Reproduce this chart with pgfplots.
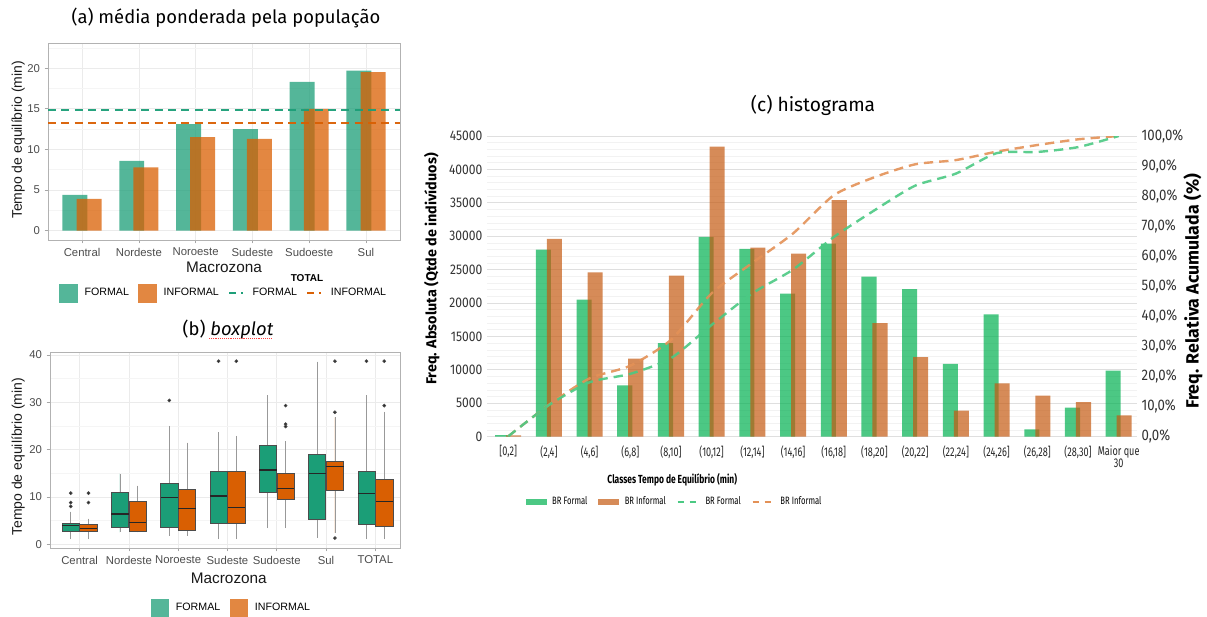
\documentclass[border=0pt]{standalone}
\usepackage{fontspec}
\setmainfont{Liberation Sans}
\newfontfamily\titlefont{Fira Sans}
\newfontfamily\condfont[FakeStretch=0.86]{Fira Sans}
\newfontfamily\ccondfont[FakeStretch=0.72]{Fira Sans}
\usepackage{pgfplots}
\pgfplotsset{compat=1.18}
\usepgfplotslibrary{statistics}

\definecolor{ggGreen}{HTML}{1B9E77}
\definecolor{ggOrange}{HTML}{D95F02}
\definecolor{ggGreenL}{HTML}{54B699}
\definecolor{ggOrangeL}{HTML}{E28741}
\definecolor{xlGreen}{HTML}{00B050}
\definecolor{xlOrange}{HTML}{C55A11}
\definecolor{lnGreen}{HTML}{4BC983}
\definecolor{lnOrange}{HTML}{E39157}

\pgfplotsset{
  ggleg/.style={
    legend style={draw=none, fill=none, font=\fontsize{8}{10}\selectfont,
      legend columns=-1,
      /tikz/every odd column/.append style={column sep=3pt},
      /tikz/every even column/.append style={column sep=5pt}},
    legend cell align=left,
  },
  gg/.style={
    scale only axis,
    axis line style={draw=gray!60, line width=0.5pt},
    xmajorgrids, ymajorgrids, yminorgrids,
    major grid style={draw=gray!16, line width=0.5pt},
    minor grid style={draw=gray!8, line width=0.35pt},
    tick align=outside, tick pos=left,
    major tick length=2.5pt, minor tick length=0pt,
    tick style={draw=gray!70, line width=0.5pt},
    ticklabel style={font=\fontsize{8.5}{10}\selectfont, text=black!70},
    /pgf/number format/assume math mode=true,
    ylabel style={font=\fontsize{10.5}{12}\selectfont, text=black!90},
    xlabel style={font=\fontsize{11.5}{13}\selectfont, text=black!90},
    ggleg,
  },
  sqG/.style={legend image code/.code={\fill[fill=ggGreenL, draw=none] (0pt,-7pt) rectangle (14pt,7pt);}},
  sqO/.style={legend image code/.code={\fill[fill=ggOrangeL, draw=none] (0pt,-7pt) rectangle (14pt,7pt);}},
  dashG/.style={legend image code/.code={\draw[color=ggGreen, line width=1.4pt, opacity=0.99, dash pattern=on 5pt off 4pt on 1.2pt off 20pt] (0pt,0pt) -- (12pt,0pt);}},
  dashO/.style={legend image code/.code={\draw[color=ggOrange, line width=1.4pt, opacity=0.99, dash pattern=on 5pt off 4pt on 1.2pt off 20pt] (0pt,0pt) -- (12pt,0pt);}},
  barG/.style={legend image code/.code={\fill[fill=xlGreen, fill opacity=0.7, draw=none] (0pt,-2.5pt) rectangle (16pt,2.5pt);}},
  barO/.style={legend image code/.code={\fill[fill=xlOrange, fill opacity=0.7, draw=none] (0pt,-2.5pt) rectangle (16pt,2.5pt);}},
  lnG/.style={legend image code/.code={\draw[draw=lnGreen, line width=1.8pt, dash pattern=on 5pt off 4pt] (0pt,0pt) -- (16pt,0pt);}},
  lnO/.style={legend image code/.code={\draw[draw=lnOrange, line width=1.8pt, dash pattern=on 5pt off 4pt] (0pt,0pt) -- (16pt,0pt);}},
  boxF/.style={forget plot, solid, fill=ggGreen, draw=black!70, line width=0.5pt,
    mark=*, mark size=1.1pt, mark options={fill=black!85, draw=none},
    boxplot/draw direction=y,
    boxplot/every whisker/.style={draw=black!40, line width=0.6pt},
    boxplot/every median/.style={draw=black!85, line width=0.9pt}},
  boxI/.style={boxF, fill=ggOrange},
}

\begin{document}
\begin{tikzpicture}[x=0.75pt, y=0.75pt]
\path[use as bounding box] (0,0) rectangle (1207,617);
\coordinate (PA) at (48,377);
\coordinate (PB) at (50,69);
\coordinate (PC) at (487,180.3);

% ---------------- (a) media ponderada ----------------
\node[font=\titlefont\fontsize{13.8}{16}\selectfont] at (226,599) {(a) média ponderada pela população};
\begin{axis}[gg,
  at={(PA)}, anchor=south west,
  width=264pt, height=147.75pt,
  xmin=-0.6, xmax=5.6, ymin=-1.15, ymax=23.1,
  xtick={0,...,5},
  xticklabels={Central,Nordeste,Noroeste,Sudeste,Sudoeste,Sul},
  ytick={0,5,10,15,20}, minor ytick={2.5,7.5,12.5,17.5,22.5},
  xlabel={Macrozona}, ylabel={Tempo de equilíbrio (min)},
  xlabel style={at={(axis description cs:0.5,-0.137)}, anchor=center},
  ylabel style={at={(axis description cs:-0.085,0.508)}, anchor=center},
  legend style={at={(axis description cs:0.5,-0.27)}, anchor=center},
]
\addplot[forget plot, ybar, bar width=0.44, bar shift=-0.125, fill=ggGreen, fill opacity=0.75, draw=none]
  coordinates {(0,4.4) (1,8.6) (2,13.1) (3,12.5) (4,18.3) (5,19.7)};
\addplot[forget plot, ybar, bar width=0.44, bar shift=0.125, fill=ggOrange, fill opacity=0.75, draw=none]
  coordinates {(0,3.9) (1,7.8) (2,11.5) (3,11.3) (4,15.0) (5,19.5)};
\addlegendimage{sqG}\addlegendentry{FORMAL}
\addlegendimage{sqO}\addlegendentry{INFORMAL\hspace{6pt}}
\addlegendimage{dashG}\addlegendentry{FORMAL}
\addlegendimage{dashO}\addlegendentry{INFORMAL}
\end{axis}
% TOTAL lines in an overlay axis with the same geometry (no legend here)
\begin{axis}[
  scale only axis,
  at={(PA)}, anchor=south west,
  width=264pt, height=147.75pt,
  xmin=-0.6, xmax=5.6, ymin=-1.15, ymax=23.1,
  axis x line=none, axis y line=none,
  ticks=none,
]
\addplot[draw=ggGreen, opacity=0.95, line width=1.5pt, dash pattern=on 6pt off 4pt]
  coordinates {(-0.6,14.9) (2.5,14.9) (5.6,14.9)};
\addplot[draw=ggOrange, opacity=0.95, line width=1.5pt, dash pattern=on 6pt off 4pt]
  coordinates {(-0.6,13.2) (2.5,13.2) (5.6,13.2)};
\end{axis}
\node[font=\bfseries\fontsize{7.5}{9}\selectfont] at (307,339) {TOTAL};

% ---------------- (b) boxplot ----------------
\node[font=\titlefont\fontsize{13.8}{16}\selectfont] at (228,287) {(b) \textit{boxplot}};
\draw[red!75, line width=0.4pt, densely dotted] (209,278.5) -- (272,278.5);
\begin{axis}[gg,
  at={(PB)}, anchor=south west,
  width=262.5pt, height=146.5pt,
  xmin=-0.6, xmax=6.5, ymin=-0.8, ymax=40.5,
  xtick={0,...,6},
  xticklabels={Central,Nordeste,Noroeste,Sudeste,Sudoeste,Sul,TOTAL},
  ytick={0,10,20,30,40}, minor ytick={5,15,25,35},
  xlabel={Macrozona}, ylabel={Tempo de equilíbrio (min)},
  xlabel style={at={(axis description cs:0.511,-0.154)}, anchor=center},
  ylabel style={at={(axis description cs:-0.091,0.467)}, anchor=center},
  legend style={at={(axis description cs:0.519,-0.307)}, anchor=center},
]
% Central
\addplot[boxF, boxplot prepared={draw position=-0.18, box extend=0.35, whisker extend=0,
  lower whisker=1.1, lower quartile=2.7, median=3.9, upper quartile=4.4, upper whisker=6.9}]
  table[row sep=\\, y index=0] {data\\ 10.8\\ 8.8\\ 8.0\\};
\addplot[boxI, boxplot prepared={draw position=0.18, box extend=0.35, whisker extend=0,
  lower whisker=1.1, lower quartile=2.7, median=3.4, upper quartile=4.3, upper whisker=5.4}]
  table[row sep=\\, y index=0] {data\\ 10.8\\ 8.8\\};
% Nordeste
\addplot[boxF, boxplot prepared={draw position=0.82, box extend=0.35, whisker extend=0,
  lower whisker=2.5, lower quartile=3.5, median=6.4, upper quartile=10.9, upper whisker=14.9}]
  coordinates {};
\addplot[boxI, boxplot prepared={draw position=1.18, box extend=0.35, whisker extend=0,
  lower whisker=2.5, lower quartile=2.7, median=4.6, upper quartile=9.0, upper whisker=12.4}]
  coordinates {};
% Noroeste
\addplot[boxF, boxplot prepared={draw position=1.82, box extend=0.35, whisker extend=0,
  lower whisker=1.8, lower quartile=3.5, median=9.9, upper quartile=12.9, upper whisker=25.0}]
  table[row sep=\\, y index=0] {data\\ 30.4\\};
\addplot[boxI, boxplot prepared={draw position=2.18, box extend=0.35, whisker extend=0,
  lower whisker=1.8, lower quartile=3.0, median=7.5, upper quartile=11.5, upper whisker=21.5}]
  coordinates {};
% Sudeste
\addplot[boxF, boxplot prepared={draw position=2.82, box extend=0.35, whisker extend=0,
  lower whisker=1.1, lower quartile=4.4, median=10.2, upper quartile=15.5, upper whisker=23.7}]
  table[row sep=\\, y index=0] {data\\ 38.7\\};
\addplot[boxI, boxplot prepared={draw position=3.18, box extend=0.35, whisker extend=0,
  lower whisker=1.1, lower quartile=4.4, median=7.8, upper quartile=15.4, upper whisker=22.9}]
  table[row sep=\\, y index=0] {data\\ 38.7\\};
% Sudoeste
\addplot[boxF, boxplot prepared={draw position=3.82, box extend=0.35, whisker extend=0,
  lower whisker=3.4, lower quartile=10.9, median=15.7, upper quartile=21.0, upper whisker=31.5}]
  coordinates {};
\addplot[boxI, boxplot prepared={draw position=4.18, box extend=0.35, whisker extend=0,
  lower whisker=3.4, lower quartile=9.5, median=11.8, upper quartile=15.0, upper whisker=21.8}]
  table[row sep=\\, y index=0] {data\\ 29.3\\ 25.4\\ 24.9\\};
% Sul
\addplot[boxF, boxplot prepared={draw position=4.82, box extend=0.35, whisker extend=0,
  lower whisker=1.4, lower quartile=5.3, median=15.0, upper quartile=19.0, upper whisker=38.6}]
  coordinates {};
\addplot[boxI, boxplot prepared={draw position=5.18, box extend=0.35, whisker extend=0,
  lower whisker=2.4, lower quartile=11.3, median=16.5, upper quartile=17.6, upper whisker=26.8}]
  table[row sep=\\, y index=0] {data\\ 27.9\\ 38.7\\ 1.3\\};
% TOTAL
\addplot[boxF, boxplot prepared={draw position=5.82, box extend=0.35, whisker extend=0,
  lower whisker=1.1, lower quartile=4.1, median=10.8, upper quartile=15.4, upper whisker=31.5}]
  table[row sep=\\, y index=0] {data\\ 38.7\\};
\addplot[boxI, boxplot prepared={draw position=6.18, box extend=0.35, whisker extend=0,
  lower whisker=1.1, lower quartile=3.7, median=9.0, upper quartile=13.8, upper whisker=28.0}]
  table[row sep=\\, y index=0] {data\\ 29.3\\ 38.7\\};
\addlegendimage{sqG}\addlegendentry{FORMAL}
\addlegendimage{sqO}\addlegendentry{INFORMAL}
\end{axis}

% ---------------- (c) histograma ----------------
\node[font=\titlefont\fontsize{14.4}{17}\selectfont] at (813,512) {(c) histograma};
\begin{axis}[
  scale only axis,
  at={(PC)}, anchor=south west,
  width=487.5pt, height=225.5pt,
  xmin=-0.52, xmax=15.45, ymin=0, ymax=45000,
  axis line style={draw=none}, tick style={draw=none},
  ymajorgrids, yminorgrids, minor y tick num=4,
  major grid style={draw=gray!25, line width=0.6pt},
  minor grid style={draw=gray!10, line width=0.5pt},
  ytick={0,5000,...,45000},
  scaled y ticks=false,
  /pgf/number format/assume math mode=true,
  /pgf/number format/set thousands separator={},
  yticklabel style={font=\condfont\fontsize{10.5}{12}\selectfont, text=black!80},
  xtick={0,...,15},
  xticklabels={{[0,2]},{(2,4]},{(4,6]},{(6,8]},{(8,10]},{(10,12]},{(12,14]},{(14,16]},
    {(16,18]},{(18,20]},{(20,22]},{(22,24]},{(24,26]},{(26,28]},{(28,30]},{Maior que\\30}},
  xticklabel style={font=\ccondfont\fontsize{9.5}{9}\selectfont, align=center, text=black!85, yshift=-3pt},
  xlabel={Classes Tempo de Equilíbrio (min)},
  xlabel style={font=\ccondfont\bfseries\fontsize{8.8}{10}\selectfont, at={(axis description cs:0.285,-0.144)}, anchor=center},
  ylabel={Freq. Absoluta (Qtde de indivíduos)},
  ylabel style={font=\titlefont\bfseries\fontsize{10.8}{12}\selectfont, at={(axis description cs:-0.085,0.558)}, anchor=center},
  legend style={draw=none, fill=none, font=\ccondfont\fontsize{8}{10}\selectfont,
    at={(axis description cs:0.289,-0.217)}, anchor=center, legend columns=-1,
    /tikz/every odd column/.append style={column sep=2pt},
    /tikz/every even column/.append style={column sep=6pt}},
]
\addplot[forget plot, ybar, bar width=0.37, bar shift=-0.135, fill=xlGreen, fill opacity=0.7, draw=none]
  coordinates {(0,250) (1,28000) (2,20500) (3,7700) (4,14000) (5,29900) (6,28100) (7,21400)
    (8,28900) (9,23950) (10,22100) (11,10900) (12,18300) (13,1100) (14,4350) (15,9900)};
\addplot[forget plot, ybar, bar width=0.37, bar shift=0.135, fill=xlOrange, fill opacity=0.7, draw=none]
  coordinates {(0,200) (1,29600) (2,24600) (3,11700) (4,24100) (5,43400) (6,28300) (7,27400)
    (8,35400) (9,17000) (10,11900) (11,3900) (12,7980) (13,6140) (14,5190) (15,3190)};
\addlegendimage{barG}\addlegendentry{BR Formal}
\addlegendimage{barO}\addlegendentry{BR Informal}
\addlegendimage{lnG}\addlegendentry{BR Formal}
\addlegendimage{lnO}\addlegendentry{BR Informal}
\end{axis}
\begin{axis}[
  scale only axis,
  at={(PC)}, anchor=south west,
  width=487.5pt, height=225.5pt,
  xmin=-0.52, xmax=15.45, ymin=0, ymax=100,
  axis x line=none, axis y line*=right,
  axis line style={draw=none}, tick style={draw=none},
  ytick={0,10,...,100},
  yticklabels={{0,0\%},{10,0\%},{20,0\%},{30,0\%},{40,0\%},{50,0\%},{60,0\%},{70,0\%},{80,0\%},{90,0\%},{100,0\%}},
  yticklabel style={font=\condfont\fontsize{11.5}{13}\selectfont, text=black!80},
  ylabel={Freq. Relativa Acumulada (\%)},
  ylabel style={font=\titlefont\bfseries\fontsize{13.3}{15}\selectfont, at={(axis description cs:1.086,0.483)}, anchor=center},
]
\addplot[draw=lnOrange, opacity=0.9, line width=1.8pt, dash pattern=on 7pt off 4.5pt, smooth, tension=0.4]
  coordinates {(0,0.1) (1,10.6) (2,19.4) (3,23.6) (4,32.2) (5,47.7) (6,57.8) (7,67.6)
    (8,80.3) (9,86.3) (10,90.6) (11,92.0) (12,94.8) (13,97.0) (14,98.9) (15,100)};
\addplot[draw=lnGreen, opacity=0.9, line width=1.8pt, dash pattern=on 7pt off 4.5pt, smooth, tension=0.4]
  coordinates {(0,0.1) (1,10.5) (2,18.1) (3,20.9) (4,26.1) (5,37.2) (6,47.7) (7,55.6)
    (8,66.4) (9,75.3) (10,83.5) (11,87.5) (12,94.3) (13,94.7) (14,96.3) (15,100)};
\end{axis}
\end{tikzpicture}
\end{document}
